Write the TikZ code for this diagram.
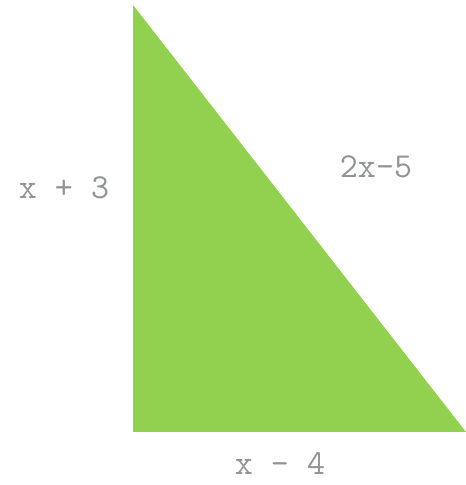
\documentclass[tikz,border=0pt]{standalone}
\usepackage{fontspec}
\usetikzlibrary{positioning}
\definecolor{leafgreen}{RGB}{146,208,80}
\definecolor{labelgray}{RGB}{145,148,148}
\tikzstyle{side} = [font=\ttfamily\fontsize{35}{40}\selectfont, text=labelgray, inner sep=0pt]

\begin{document}
\begin{tikzpicture}[x=1pt, y=1pt]
        \useasboundingbox (0,0) rectangle (466,485);
        % Corners
        \coordinate (top) at (133,480);
        \coordinate (corner) at (133,53);
        \coordinate (right) at (466,53);
        
        % Triangle
        \fill [leafgreen] (top) -- (corner) -- (right) -- cycle;
        
        % Labels
        \node (height) [side] at (64,297) {x + 3};
        \node (hyp) [side] at (376,318) {2x-5};
        \node (base) [side, anchor=base] at (280,10) {x - 4};
    \end{tikzpicture}
\end{document}
